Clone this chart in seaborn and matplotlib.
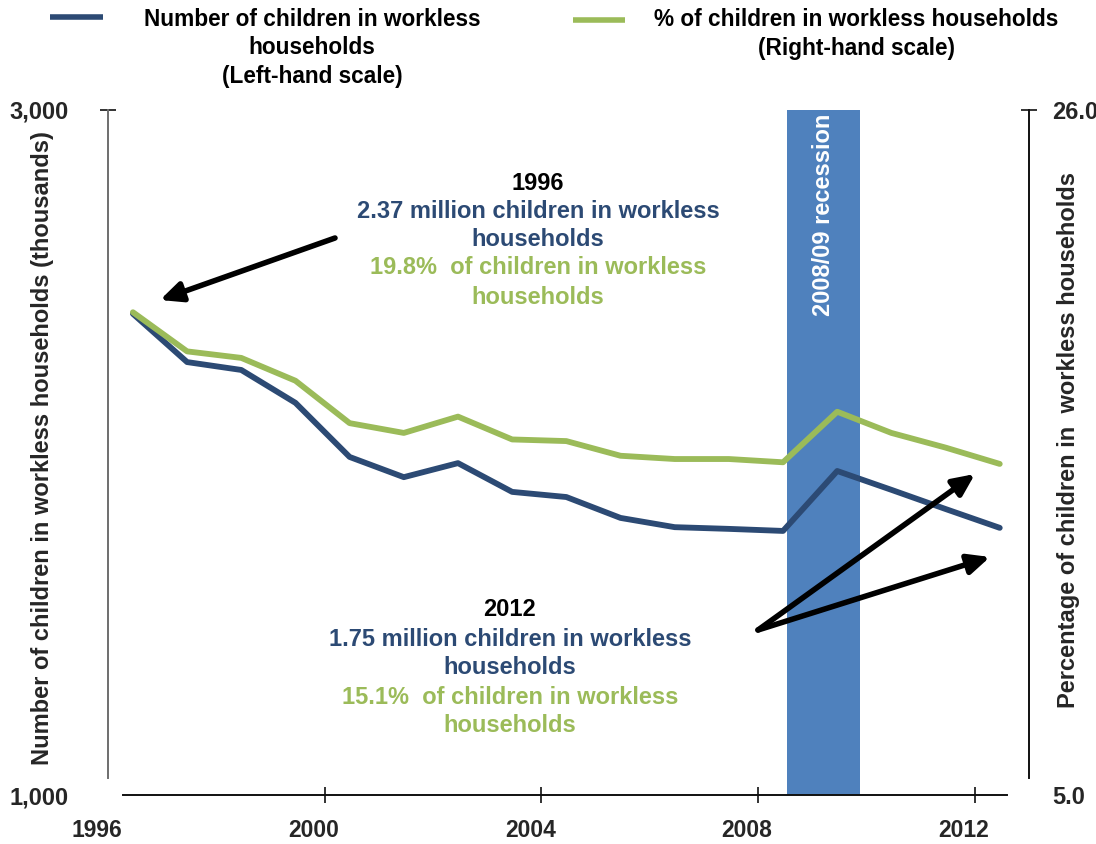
import matplotlib
matplotlib.use("Agg")
import matplotlib.pyplot as plt
import matplotlib.transforms as mtransforms
from matplotlib.lines import Line2D
import seaborn as sns
import pandas as pd

# ---- data ----
years = [1996, 1997, 1998, 1999, 2000, 2001, 2002, 2003, 2004,
         2005, 2006, 2007, 2008, 2009, 2010, 2011, 2012]
children_thousands = [2405, 2264, 2241, 2145, 1987, 1928, 1969, 1885, 1870,
                      1809, 1782, 1777, 1771, 1946, 1891, 1835, 1780]
children_pct = [19.8, 18.6, 18.4, 17.7, 16.4, 16.1, 16.6, 15.9, 15.85,
                15.4, 15.3, 15.3, 15.2, 16.75, 16.1, 15.65, 15.15]
x_ticks = [1996, 2000, 2004, 2008, 2012]
left_ticks = [1000, 3000]
left_tick_labels = ["1,000", "3,000"]
right_ticks = [5.0, 26.0]
right_tick_labels = ["5.0", "26.0"]
recession = (2008.54, 2009.88)

NAVY = "#2C4A74"
GREEN = "#9BBB59"
BAND = "#4F81BD"
FS = 17
FS_LEG = 16.3

sns.set_style("white")
plt.rcParams["font.family"] = ["Liberation Sans", "DejaVu Sans"]
plt.rcParams["font.weight"] = "bold"

W, H = 1096, 844
fig = plt.figure(figsize=(W / 100, H / 100), dpi=100)

def fx(x):
    return x / W

def fy(y):
    return 1 - y / H

ax_l, ax_r, ax_t, ax_b = 108, 1029, 110, 795
ax = fig.add_axes([fx(ax_l), fy(ax_b), fx(ax_r - ax_l), (ax_b - ax_t) / H])
ax2 = ax.twinx()

df = pd.DataFrame({"year": years, "num": children_thousands, "pct": children_pct})
df["xpos"] = df["year"] + 0.46  # mid-year (Apr-Jun) observation

ax.axvspan(*recession, color=BAND, zorder=0.5, lw=0)
sns.lineplot(data=df, x="xpos", y="num", ax=ax, color=NAVY, lw=4.2, zorder=2)
sns.lineplot(data=df, x="xpos", y="pct", ax=ax2, color=GREEN, lw=4.2, zorder=3)

ax.set_xlim(1996, 2013)
ax.set_ylim(1000, 3000)
ax2.set_ylim(5, 26)
ax.set_xlabel("")
ax.set_ylabel("")
ax2.set_ylabel("")

# spines
for a in (ax, ax2):
    a.spines["top"].set_visible(False)
ax.spines["right"].set_visible(False)
ax2.spines["left"].set_visible(False)
ax2.spines["bottom"].set_visible(False)
ax.spines["left"].set_bounds(1050, 3000)
ax.spines["left"].set_color("#6E6E6E")
ax.spines["left"].set_linewidth(1.4)
ax2.spines["right"].set_bounds(5.52, 26)
ax2.spines["right"].set_color("#111111")
ax2.spines["right"].set_linewidth(1.4)
ax.spines["bottom"].set_bounds(1996.27, 2012.6)
ax.spines["bottom"].set_color("#111111")
ax.spines["bottom"].set_linewidth(1.4)

# ticks
ax.set_xticks(x_ticks)
ax.set_xticklabels([str(y) for y in x_ticks])
ax.set_yticks(left_ticks)
ax.set_yticklabels(left_tick_labels)
ax2.set_yticks(right_ticks)
ax2.set_yticklabels(right_tick_labels)
ax.tick_params(axis="x", direction="inout", length=12, width=1.2, color="#111111",
               labelsize=16.5, pad=11, bottom=True)
ax.tick_params(axis="y", direction="inout", length=11, width=1.2, color="#111111",
               labelsize=FS, pad=23, left=True)
ax2.tick_params(axis="y", direction="inout", length=11, width=1.2, color="#111111",
                labelsize=FS, pad=11, right=True)
ax.xaxis.get_major_ticks()[0].tick1line.set_visible(False)
ax.yaxis.get_major_ticks()[0].tick1line.set_visible(False)
ax2.yaxis.get_major_ticks()[0].tick2line.set_visible(False)
shift = mtransforms.ScaledTranslation(-11 / 100, 0, fig.dpi_scale_trans)
for lab in ax.get_xticklabels():
    lab.set_transform(lab.get_transform() + shift)
for lab in ax.get_xticklabels() + ax.get_yticklabels() + ax2.get_yticklabels():
    lab.set_fontweight("bold")

# axis titles
fig.text(fx(43), fy(448), "Number of children in workless households (thousands)",
         rotation=90, ha="center", va="center", fontsize=FS, fontweight="bold")
fig.text(fx(1068), fy(440), "Percentage of children in  workless households",
         rotation=90, ha="center", va="center", fontsize=FS, fontweight="bold")

# recession label
fig.text(fx(823), fy(114), "2008/09 recession", rotation=90, ha="center", va="top",
         color="white", fontsize=FS, fontweight="bold")

def line_text(xc, yc, s, color="black", fs=FS):
    fig.text(fx(xc), fy(yc), s, ha="center", va="center", fontsize=fs,
             fontweight="bold", color=color)

# legend (manual, Excel-style)
fig.add_artist(Line2D([fx(50), fx(103)], [fy(17), fy(17)], color=NAVY, lw=4.0,
                      solid_capstyle="butt"))
fig.add_artist(Line2D([fx(573), fx(625)], [fy(20), fy(20)], color=GREEN, lw=4.0,
                      solid_capstyle="butt"))
for yc, s in [(20, "Number of children in workless"), (48, "households"),
              (77, "(Left-hand scale)")]:
    line_text(312, yc, s, fs=FS_LEG)
for yc, s in [(20, "% of children in workless households"), (48, "(Right-hand scale)")]:
    line_text(856, yc, s, fs=FS_LEG)

# annotations
def block(xc, ys, year, line1, line2):
    line_text(xc, ys[0], year, "black")
    line_text(xc, ys[1], line1, NAVY)
    line_text(xc, ys[2], "households", NAVY)
    line_text(xc, ys[3], line2, GREEN)
    line_text(xc, ys[4], "households", GREEN)

block(538, [183, 212, 240, 268, 297], "1996",
      "2.37 million children in workless", "19.8%  of children in workless")
block(510, [610, 639, 668, 697, 725], "2012",
      "1.75 million children in workless", "15.1%  of children in workless")

arrow_kw = dict(arrowstyle="-|>,head_length=1.3,head_width=0.6", color="black", lw=4,
                shrinkA=0, shrinkB=0)
ax.annotate("", xy=(fx(160), fy(300)), xytext=(fx(335), fy(238)),
            xycoords="figure fraction", textcoords="figure fraction", arrowprops=arrow_kw)
ax.annotate("", xy=(fx(975), fy(474)), xytext=(fx(758), fy(630)),
            xycoords="figure fraction", textcoords="figure fraction", arrowprops=arrow_kw)
ax.annotate("", xy=(fx(990), fy(557)), xytext=(fx(758), fy(630)),
            xycoords="figure fraction", textcoords="figure fraction", arrowprops=arrow_kw)

fig.savefig("out.png", dpi=100)
